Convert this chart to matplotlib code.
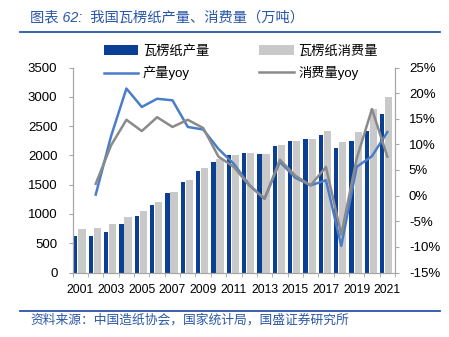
import numpy as np
import matplotlib
matplotlib.use("Agg")
import matplotlib.pyplot as plt
from matplotlib.lines import Line2D
from matplotlib.ticker import FuncFormatter, MultipleLocator

plt.rcParams["font.family"] = ["Liberation Sans", "Noto Sans CJK SC", "DejaVu Sans"]

years = list(range(2001, 2022))
production = [623, 623, 691, 833, 970, 1152, 1362, 1539, 1732, 1891, 2000,
              2034, 2028, 2164, 2244, 2283, 2346, 2119, 2239, 2410, 2700]
consumption = [737, 754, 822, 942, 1055, 1208, 1368, 1573, 1778, 1932, 2005,
               2045, 2022, 2170, 2244, 2283, 2415, 2227, 2392, 2790, 2990]
# yoy in %, first year has no value
prod_yoy = [np.nan, 0.2, 11.6, 20.9, 17.3, 18.9, 18.6, 13.4, 12.9, 9.1, 6.2,
            2.1, -0.6, 6.6, 3.5, 2.0, 3.0, -9.8, 5.6, 7.7, 12.4]
cons_yoy = [np.nan, 2.3, 9.8, 14.8, 12.6, 15.3, 13.4, 14.8, 13.2, 7.6, 5.6,
            2.0, -0.6, 7.0, 3.9, 2.0, 5.6, -7.6, 7.2, 16.9, 7.6]

title = "图表 62:  我国瓦楞纸产量、消费量（万吨）"
source = "资料来源：中国造纸协会，国家统计局，国盛证券研究所"

navy = "#0A3F94"
light_gray = "#C9C9C9"
blue_line = "#4A7DC9"
gray_line = "#8A8A8A"
text_blue = "#2A56A8"
axis_gray = "#A6A6A6"

W, H = 449, 337
fig = plt.figure(figsize=(W / 100, H / 100), dpi=100)
ax = fig.add_axes([72.7 / W, 1 - 272.5 / H, (395 - 72.7) / W, (272.5 - 67.5) / H])
ax2 = ax.twinx()

x = np.arange(len(years))
b1 = ax.bar(x - 0.33, production, width=0.28, color=navy, zorder=2)
b2 = ax.bar(x + 0.10, consumption, width=0.47, color=light_gray, zorder=2)

l1, = ax2.plot(x, prod_yoy, color=blue_line, lw=1.8)
l2, = ax2.plot(x, cons_yoy, color=gray_line, lw=1.8)

ax.set_xlim(-0.5, len(years) - 0.5)
ax.set_ylim(0, 3500)
ax.yaxis.set_major_locator(MultipleLocator(500))
ax2.set_ylim(-15, 25)
ax2.yaxis.set_major_locator(MultipleLocator(5))
ax2.yaxis.set_major_formatter(FuncFormatter(lambda v, p: f"{v:.0f}%"))

ax.set_xticks(x[::2])
ax.set_xticklabels([str(y) for y in years[::2]])
ax.set_xticks(np.arange(-0.5, len(years), 1), minor=True)
ax.tick_params(axis="x", which="major", length=0, pad=8, labelsize=8.8)
ax.tick_params(axis="x", which="minor", length=3, color=axis_gray)
ax.tick_params(axis="y", length=3, color=axis_gray, pad=8, labelsize=9.5)
ax2.tick_params(axis="y", length=3, color=axis_gray, pad=7, labelsize=9.5)

for a in (ax, ax2):
    a.spines["top"].set_visible(False)
    for s in ("left", "right", "bottom"):
        a.spines[s].set_color(axis_gray)

# row-wise order: matplotlib fills legend columns first
fig.legend([b1, l1, b2, l2], ["瓦楞纸产量", "产量yoy", "瓦楞纸消费量", "消费量yoy"],
           ncol=2, loc="center left", bbox_to_anchor=(104 / W, 1 - 62.5 / H),
           frameon=False, fontsize=9.5, handlelength=2.6, handletextpad=0.35,
           columnspacing=3.8, labelspacing=0.6, borderpad=0, borderaxespad=0)

fig.text(30 / W, 1 - 17 / H, title, fontsize=10.3, color=text_blue, style="italic", va="center")
fig.text(30 / W, 1 - 320 / H, source, fontsize=9.2, color=text_blue, style="italic", va="center")
fig.add_artist(Line2D([20 / W, 440 / W], [1 - 32 / H] * 2, color=text_blue, lw=1.3))
fig.add_artist(Line2D([20 / W, 440 / W], [1 - 310.5 / H] * 2, color=text_blue, lw=1.3))

fig.savefig("out.png", dpi=100, facecolor="white")
